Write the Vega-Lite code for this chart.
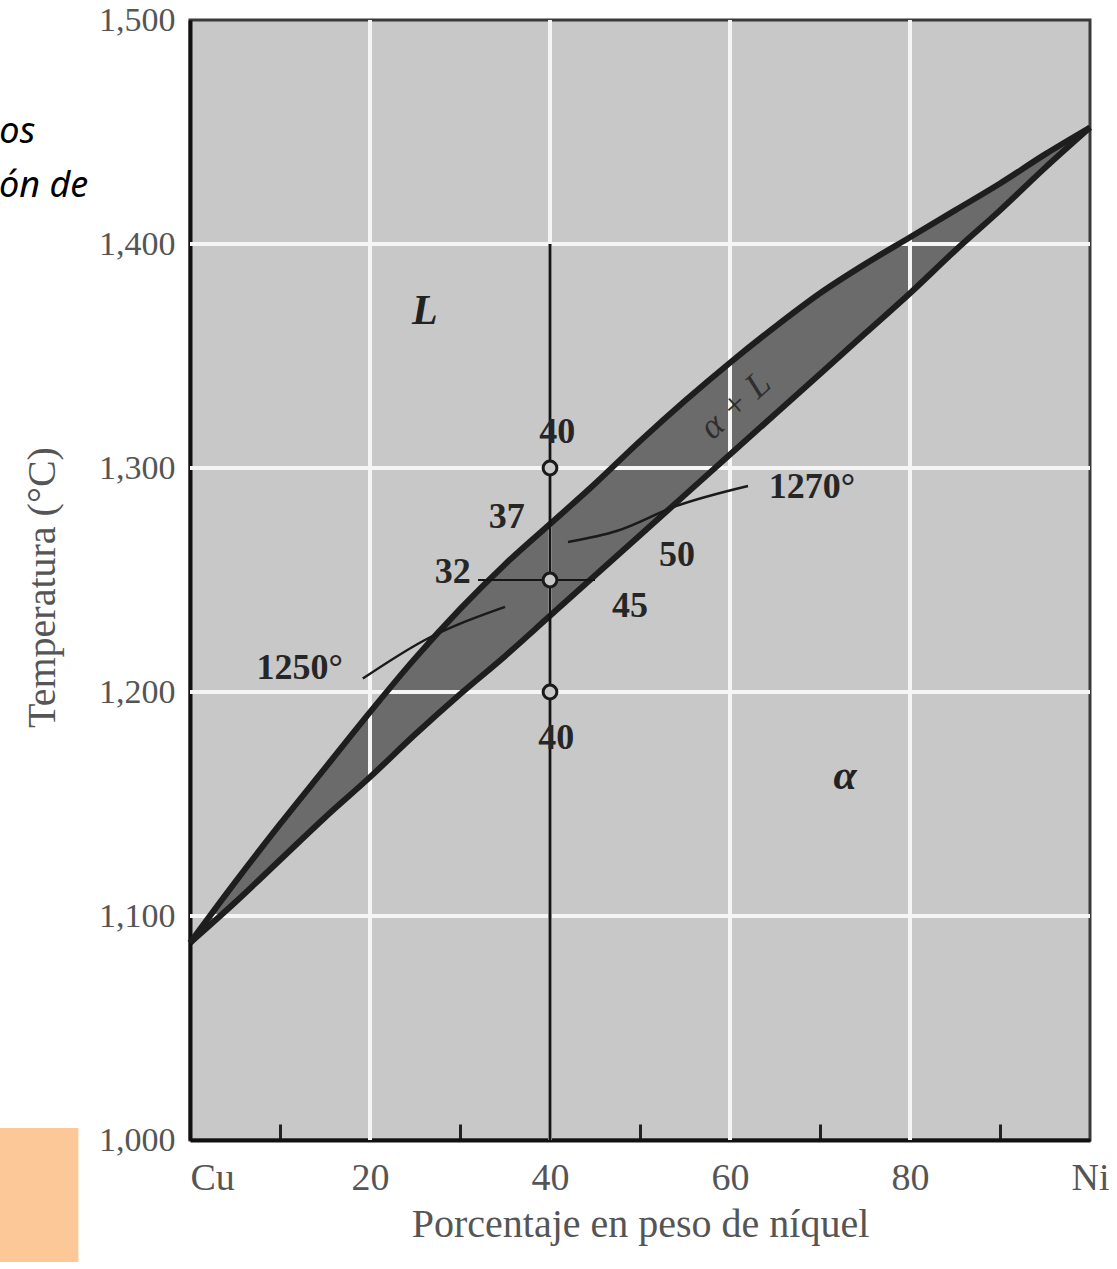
{
  "$schema": "https://vega.github.io/schema/vega-lite/v6.json",
  "autosize": "none",
  "width": 900,
  "height": 1120,
  "padding": {"left": 190, "top": 20, "right": 27, "bottom": 129},
  "background": "white",
  "config": {"view": {"fill": "#c8c8c8", "stroke": "#3a3a3a", "strokeWidth": 3}},
  "datasets": {
    "phase": [
      {"x": 0, "liq": 1088, "sol": 1088},
      {"x": 5, "liq": 1115, "sol": 1106},
      {"x": 10, "liq": 1141, "sol": 1125},
      {"x": 15, "liq": 1166, "sol": 1144},
      {"x": 20, "liq": 1191, "sol": 1162},
      {"x": 25, "liq": 1215, "sol": 1181},
      {"x": 30, "liq": 1237, "sol": 1199},
      {"x": 35, "liq": 1257, "sol": 1216},
      {"x": 40, "liq": 1275, "sol": 1234},
      {"x": 45, "liq": 1293, "sol": 1252},
      {"x": 50, "liq": 1312, "sol": 1270},
      {"x": 55, "liq": 1330, "sol": 1288},
      {"x": 60, "liq": 1347, "sol": 1306},
      {"x": 65, "liq": 1363, "sol": 1324},
      {"x": 70, "liq": 1378, "sol": 1342},
      {"x": 75, "liq": 1391, "sol": 1360},
      {"x": 80, "liq": 1403, "sol": 1378},
      {"x": 85, "liq": 1415, "sol": 1397},
      {"x": 90, "liq": 1427, "sol": 1415},
      {"x": 95, "liq": 1440, "sol": 1434},
      {"x": 100, "liq": 1452, "sol": 1452}
    ],
    "gridx": [{"x": 20}, {"x": 40}, {"x": 60}, {"x": 80}],
    "gridy": [{"y": 1100}, {"y": 1200}, {"y": 1300}, {"y": 1400}],
    "vline": [{"x": 40, "y": 1400, "y2": 1000}],
    "tie": [{"x": 32, "x2": 45, "y": 1250}],
    "leaders": [
      {"g": "1250", "x": 19.2, "y": 1206},
      {"g": "1250", "x": 26, "y": 1223},
      {"g": "1250", "x": 35, "y": 1238},
      {"g": "1270", "x": 62, "y": 1292},
      {"g": "1270", "x": 54, "y": 1283},
      {"g": "1270", "x": 47.5, "y": 1272},
      {"g": "1270", "x": 42, "y": 1267}
    ],
    "points": [{"x": 40, "y": 1300}, {"x": 40, "y": 1250}, {"x": 40, "y": 1200}],
    "numbers": [
      {"t": "40", "x": 40.8, "y": 1316},
      {"t": "37", "x": 35.2, "y": 1278},
      {"t": "32", "x": 29.2, "y": 1253.6},
      {"t": "50", "x": 54.1, "y": 1261.2},
      {"t": "45", "x": 48.9, "y": 1238.4},
      {"t": "40", "x": 40.7, "y": 1179.5},
      {"t": "1250°", "x": 12.2, "y": 1210.7},
      {"t": "1270°", "x": 69.1, "y": 1291.5}
    ],
    "phases": [
      {"t": "L", "x": 26.1, "y": 1370},
      {"t": "α", "x": 72.8, "y": 1162.5}
    ],
    "band": [{"t": "α + L", "x": 60.6, "y": 1328}],
    "box": [{"x": -21.2, "x2": -12.4, "y": 1005.4, "y2": 945.5}],
    "fragments": [
      {"t": "os", "x": -17.2, "y": 1445},
      {"t": "ón de", "x": -11.3, "y": 1421}
    ]
  },
  "layer": [
    {
      "data": {"name": "phase"},
      "mark": {"type": "area", "color": "#6b6b6b", "opacity": 1, "interpolate": "monotone"},
      "encoding": {
        "x": {
          "field": "x", "type": "quantitative",
          "scale": {"domain": [0, 100], "nice": false, "zero": false},
          "axis": {
            "values": [0, 10, 20, 30, 40, 50, 60, 70, 80, 90, 100],
            "labelExpr": "datum.value == 0 ? 'Cu' : datum.value == 100 ? 'Ni' : (datum.value % 20 == 0 ? datum.label : '')",
            "grid": false,
            "tickSize": -16,
            "tickWidth": 3,
            "tickColor": "#222",
            "tickOpacity": {"condition": {"test": "datum.value == 0 || datum.value == 100", "value": 0}, "value": 1},
            "domainColor": "#111",
            "domainWidth": 4,
            "labelFont": "Liberation Serif",
            "labelFontSize": 38,
            "labelColor": "#555",
            "labelPadding": 35,
            "labelFlush": false,
            "labelOverlap": false,
            "labelBound": false,
            "labelAlign": {"condition": {"test": "datum.value == 0", "value": "left"}, "value": "center"},
            "title": "Porcentaje en peso de níquel",
            "titleFont": "Liberation Serif",
            "titleFontSize": 40,
            "titleFontWeight": "normal",
            "titleColor": "#555",
            "titleX": 450,
            "titleY": 84,
            "titleAlign": "center",
            "titleBaseline": "middle"
          }
        },
        "y": {
          "field": "liq", "type": "quantitative",
          "scale": {"domain": [1000, 1500], "nice": false, "zero": false},
          "axis": {
            "values": [1000, 1100, 1200, 1300, 1400, 1500],
            "format": ",d",
            "grid": false,
            "tickSize": -10,
            "tickWidth": 3,
            "tickColor": "#222",
            "tickOpacity": {"condition": {"test": "datum.value == 1000 || datum.value == 1500", "value": 0}, "value": 1},
            "domainColor": "#111",
            "domainWidth": 4,
            "labelFont": "Liberation Serif",
            "labelFontSize": 34,
            "labelColor": "#555",
            "labelPadding": 25,
            "labelOverlap": false,
            "labelBound": false,
            "title": "Temperatura (°C)",
            "titleFont": "Liberation Serif",
            "titleFontSize": 40,
            "titleFontWeight": "normal",
            "titleColor": "#555",
            "titleX": -148,
            "titleY": 567,
            "titleAlign": "center",
            "titleBaseline": "middle"
          }
        },
        "y2": {"field": "sol"}
      }
    },
    {
      "data": {"name": "gridx"},
      "mark": {"type": "rule", "color": "#f5f5f5", "strokeWidth": 4},
      "encoding": {
        "x": {"field": "x", "type": "quantitative", "scale": {"domain": [0, 100], "nice": false, "zero": false}}
      }
    },
    {
      "data": {"name": "gridy"},
      "mark": {"type": "rule", "color": "#f5f5f5", "strokeWidth": 4},
      "encoding": {
        "y": {"field": "y", "type": "quantitative", "scale": {"domain": [1000, 1500], "nice": false, "zero": false}}
      }
    },
    {
      "data": {"name": "phase"},
      "mark": {"type": "line", "color": "#1e1e1e", "strokeWidth": 6, "interpolate": "monotone"},
      "encoding": {
        "x": {"field": "x", "type": "quantitative", "scale": {"domain": [0, 100], "nice": false, "zero": false}},
        "y": {"field": "liq", "type": "quantitative", "scale": {"domain": [1000, 1500], "nice": false, "zero": false}}
      }
    },
    {
      "data": {"name": "phase"},
      "mark": {"type": "line", "color": "#1e1e1e", "strokeWidth": 6, "interpolate": "monotone"},
      "encoding": {
        "x": {"field": "x", "type": "quantitative", "scale": {"domain": [0, 100], "nice": false, "zero": false}},
        "y": {"field": "sol", "type": "quantitative", "scale": {"domain": [1000, 1500], "nice": false, "zero": false}}
      }
    },
    {
      "data": {"name": "vline"},
      "mark": {"type": "rule", "color": "#151515", "strokeWidth": 3},
      "encoding": {
        "x": {"field": "x", "type": "quantitative", "scale": {"domain": [0, 100], "nice": false, "zero": false}},
        "y": {"field": "y", "type": "quantitative", "scale": {"domain": [1000, 1500], "nice": false, "zero": false}},
        "y2": {"field": "y2"}
      }
    },
    {
      "data": {"name": "tie"},
      "mark": {"type": "rule", "color": "#151515", "strokeWidth": 2},
      "encoding": {
        "x": {"field": "x", "type": "quantitative", "scale": {"domain": [0, 100], "nice": false, "zero": false}},
        "x2": {"field": "x2"},
        "y": {"field": "y", "type": "quantitative", "scale": {"domain": [1000, 1500], "nice": false, "zero": false}}
      }
    },
    {
      "data": {"name": "leaders"},
      "mark": {"type": "line", "color": "#1a1a1a", "strokeWidth": 2.5, "interpolate": "monotone"},
      "encoding": {
        "x": {"field": "x", "type": "quantitative", "scale": {"domain": [0, 100], "nice": false, "zero": false}},
        "y": {"field": "y", "type": "quantitative", "scale": {"domain": [1000, 1500], "nice": false, "zero": false}},
        "detail": {"field": "g", "type": "nominal"}
      }
    },
    {
      "data": {"name": "points"},
      "mark": {"type": "point", "shape": "circle", "filled": true, "fill": "#c8c8c8", "stroke": "#1a1a1a", "strokeWidth": 3, "size": 190, "opacity": 1},
      "encoding": {
        "x": {"field": "x", "type": "quantitative", "scale": {"domain": [0, 100], "nice": false, "zero": false}},
        "y": {"field": "y", "type": "quantitative", "scale": {"domain": [1000, 1500], "nice": false, "zero": false}}
      }
    },
    {
      "data": {"name": "numbers"},
      "mark": {"type": "text", "font": "Liberation Serif", "fontSize": 36, "fontWeight": "bold", "color": "#262626", "align": "center", "baseline": "middle"},
      "encoding": {
        "x": {"field": "x", "type": "quantitative", "scale": {"domain": [0, 100], "nice": false, "zero": false}},
        "y": {"field": "y", "type": "quantitative", "scale": {"domain": [1000, 1500], "nice": false, "zero": false}},
        "text": {"field": "t"}
      }
    },
    {
      "data": {"name": "phases"},
      "mark": {"type": "text", "font": "Liberation Serif", "fontSize": 42, "fontWeight": "bold", "fontStyle": "italic", "color": "#222", "align": "center", "baseline": "middle"},
      "encoding": {
        "x": {"field": "x", "type": "quantitative", "scale": {"domain": [0, 100], "nice": false, "zero": false}},
        "y": {"field": "y", "type": "quantitative", "scale": {"domain": [1000, 1500], "nice": false, "zero": false}},
        "text": {"field": "t"}
      }
    },
    {
      "data": {"name": "band"},
      "mark": {"type": "text", "font": "Liberation Serif", "fontSize": 36, "fontStyle": "italic", "color": "#2e2e2e", "align": "center", "baseline": "middle", "angle": 318},
      "encoding": {
        "x": {"field": "x", "type": "quantitative", "scale": {"domain": [0, 100], "nice": false, "zero": false}},
        "y": {"field": "y", "type": "quantitative", "scale": {"domain": [1000, 1500], "nice": false, "zero": false}},
        "text": {"field": "t"}
      }
    },
    {
      "data": {"name": "box"},
      "mark": {"type": "rect", "color": "#fdc897", "opacity": 1, "clip": false},
      "encoding": {
        "x": {"field": "x", "type": "quantitative", "scale": {"domain": [0, 100], "nice": false, "zero": false}},
        "x2": {"field": "x2"},
        "y": {"field": "y", "type": "quantitative", "scale": {"domain": [1000, 1500], "nice": false, "zero": false}},
        "y2": {"field": "y2"}
      }
    },
    {
      "data": {"name": "fragments"},
      "mark": {"type": "text", "font": "Noto Sans", "fontSize": 36, "fontStyle": "italic", "color": "#000", "align": "right", "baseline": "alphabetic", "clip": false},
      "encoding": {
        "x": {"field": "x", "type": "quantitative", "scale": {"domain": [0, 100], "nice": false, "zero": false}},
        "y": {"field": "y", "type": "quantitative", "scale": {"domain": [1000, 1500], "nice": false, "zero": false}},
        "text": {"field": "t"}
      }
    }
  ]
}
